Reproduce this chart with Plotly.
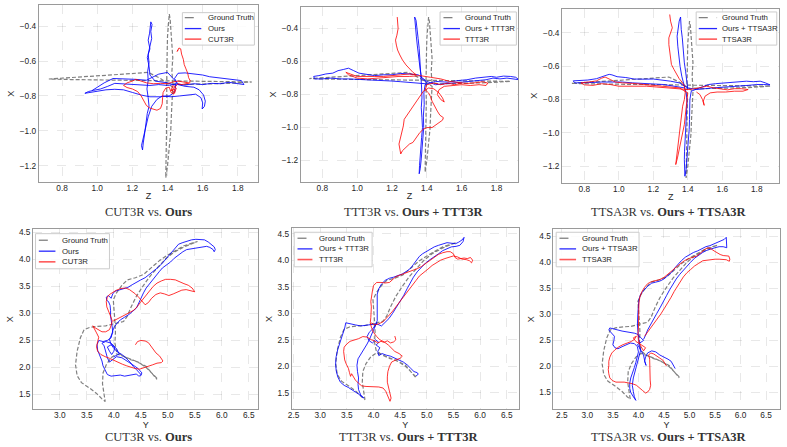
import plotly.graph_objects as go

W, H = 787, 447

# ---------------- DATA ----------------
# Top row: Z (horizontal) vs X (vertical)
gt_top = [(1.43,-0.73),(1.425,-0.66),(1.43,-0.58),(1.425,-0.50),(1.42,-0.42),(1.415,-0.36),(1.41,-0.33),
          (1.405,-0.38),(1.40,-0.46),(1.398,-0.55),(1.396,-0.64),(1.395,-0.74),(1.397,-0.84),(1.396,-0.94),
          (1.394,-1.04),(1.392,-1.13),(1.39,-1.21),(1.39,-1.27),(1.40,-1.20),(1.41,-1.11),(1.418,-1.01),
          (1.422,-0.91),(1.425,-0.82),(1.43,-0.75),(1.36,-0.70),(1.29,-0.665),(1.15,-0.675),(1.00,-0.685),
          (0.85,-0.695),(0.725,-0.703),(0.85,-0.706),(1.00,-0.708),(1.15,-0.71),(1.30,-0.713),(1.45,-0.716),
          (1.60,-0.719),(1.75,-0.72),(1.88,-0.72),(1.75,-0.728),(1.60,-0.733),(1.48,-0.735),(1.43,-0.73)]

ours_p1 = [(1.45,-0.74),(1.40,-0.725),(1.33,-0.715),(1.30,-0.68),(1.295,-0.63),(1.285,-0.58),(1.30,-0.53),
           (1.29,-0.48),(1.298,-0.44),(1.30,-0.40),(1.305,-0.375),(1.312,-0.39),(1.305,-0.43),(1.31,-0.47),
           (1.30,-0.51),(1.29,-0.56),(1.295,-0.61),(1.287,-0.66),(1.29,-0.71),(1.283,-0.76),(1.29,-0.81),
           (1.295,-0.86),(1.285,-0.90),(1.28,-0.95),(1.273,-0.99),(1.268,-1.03),(1.262,-1.07),(1.258,-1.11),
           (1.252,-1.085),(1.262,-1.04),(1.275,-0.98),(1.29,-0.92),(1.31,-0.86),(1.34,-0.82),(1.37,-0.80),
           (1.42,-0.805),(1.47,-0.80),(1.52,-0.795),(1.56,-0.79),(1.59,-0.81),(1.60,-0.84),(1.597,-0.875),
           (1.61,-0.86),(1.615,-0.83),(1.605,-0.795),(1.58,-0.765),(1.55,-0.75),(1.50,-0.745),(1.46,-0.735),
           (1.44,-0.70),(1.46,-0.67),(1.50,-0.668),(1.55,-0.672),(1.60,-0.68),(1.64,-0.69),(1.68,-0.695),
           (1.72,-0.70),(1.76,-0.705),(1.80,-0.71),(1.82,-0.712),(1.835,-0.735),(1.80,-0.728),(1.75,-0.722),
           (1.70,-0.73),(1.65,-0.728),(1.60,-0.735),(1.55,-0.73),(1.50,-0.738),(1.45,-0.732),(1.40,-0.74),
           (1.35,-0.735),(1.30,-0.74),(1.25,-0.737),(1.20,-0.735),(1.15,-0.73),(1.10,-0.728),(1.06,-0.745),
           (1.02,-0.76),(0.98,-0.768),(0.95,-0.775),(0.93,-0.785),(0.96,-0.78),(1.00,-0.772),(1.05,-0.765),
           (1.10,-0.762),(1.15,-0.765),(1.20,-0.78),(1.25,-0.795),(1.30,-0.805),(1.36,-0.805),(1.41,-0.80),
           (1.44,-0.78),(1.45,-0.72),(1.40,-0.665),(1.35,-0.675),(1.28,-0.71),(1.22,-0.705),(1.15,-0.70),
           (1.09,-0.70),(1.04,-0.725),(0.99,-0.76),(0.97,-0.77)]

cut3r_p1 = [(1.46,-0.535),(1.455,-0.545),(1.465,-0.525),(1.475,-0.53),(1.48,-0.56),(1.49,-0.59),(1.495,-0.62),
            (1.505,-0.645),(1.515,-0.67),(1.52,-0.695),(1.53,-0.715),(1.52,-0.725),(1.49,-0.72),(1.46,-0.715),
            (1.43,-0.72),(1.40,-0.73),(1.36,-0.728),(1.32,-0.73),(1.28,-0.725),(1.25,-0.715),(1.22,-0.705),
            (1.20,-0.715),(1.17,-0.725),(1.15,-0.74),(1.17,-0.752),(1.20,-0.76),(1.23,-0.775),(1.25,-0.80),
            (1.265,-0.83),(1.28,-0.855),(1.30,-0.87),(1.32,-0.875),(1.34,-0.882),(1.36,-0.872),(1.37,-0.845),
            (1.372,-0.81),(1.375,-0.78),(1.39,-0.755),(1.41,-0.75),(1.42,-0.78),(1.435,-0.79),(1.44,-0.76),
            (1.42,-0.77),(1.43,-0.74),(1.45,-0.755),(1.44,-0.785),(1.425,-0.765),(1.445,-0.745),(1.46,-0.73),
            (1.48,-0.735),(1.50,-0.73),(1.53,-0.725)]

ours_p2 = [(1.40,-0.73),(1.37,-0.70),(1.362,-0.65),(1.355,-0.60),(1.35,-0.55),(1.345,-0.50),(1.34,-0.45),
           (1.335,-0.40),(1.33,-0.36),(1.33,-0.33),(1.338,-0.35),(1.345,-0.40),(1.35,-0.46),(1.356,-0.52),
           (1.36,-0.58),(1.365,-0.64),(1.368,-0.70),(1.37,-0.76),(1.372,-0.82),(1.368,-0.88),(1.372,-0.94),
           (1.375,-1.00),(1.37,-1.06),(1.365,-1.12),(1.36,-1.18),(1.358,-1.23),(1.356,-1.28),(1.362,-1.25),
           (1.368,-1.19),(1.372,-1.13),(1.378,-1.07),(1.382,-1.00),(1.38,-0.93),(1.385,-0.86),(1.383,-0.79),
           (1.39,-0.74),(1.45,-0.72),(1.52,-0.725),(1.58,-0.715),(1.63,-0.71),(1.68,-0.70),(1.72,-0.695),
           (1.77,-0.69),(1.80,-0.695),(1.84,-0.688),(1.88,-0.69),(1.91,-0.695),(1.93,-0.71),(1.90,-0.705),
           (1.86,-0.70),(1.82,-0.705),(1.78,-0.70),(1.74,-0.71),(1.70,-0.715),(1.65,-0.72),(1.60,-0.725),
           (1.55,-0.73),(1.50,-0.735),(1.45,-0.74),(1.40,-0.72),(1.35,-0.68),(1.30,-0.675),(1.25,-0.672),
           (1.20,-0.68),(1.15,-0.68),(1.10,-0.685),(1.05,-0.675),(1.01,-0.67),(0.98,-0.655),(0.95,-0.64),
           (0.92,-0.648),(0.89,-0.655),(0.86,-0.67),(0.82,-0.675),(0.78,-0.685),(0.75,-0.69),(0.755,-0.705),
           (0.80,-0.705),(0.85,-0.70),(0.90,-0.705),(0.95,-0.705),(1.00,-0.707),(1.05,-0.71),(1.10,-0.71),
           (1.15,-0.715),(1.20,-0.718),(1.25,-0.722),(1.30,-0.725),(1.35,-0.73),(1.40,-0.735)]

ttt3r_p2 = [(1.23,-0.33),(1.232,-0.36),(1.235,-0.40),(1.228,-0.44),(1.22,-0.47),(1.225,-0.50),(1.232,-0.53),
            (1.245,-0.56),(1.26,-0.59),(1.28,-0.62),(1.30,-0.645),(1.32,-0.665),(1.34,-0.68),(1.30,-0.675),
            (1.25,-0.68),(1.20,-0.685),(1.15,-0.69),(1.10,-0.69),(1.05,-0.688),(1.00,-0.69),(0.96,-0.675),
            (0.935,-0.665),(0.95,-0.68),(1.00,-0.70),(1.06,-0.705),(1.12,-0.70),(1.18,-0.695),(1.24,-0.69),
            (1.30,-0.69),(1.36,-0.685),(1.42,-0.695),(1.48,-0.705),(1.53,-0.72),(1.58,-0.728),(1.63,-0.733),
            (1.68,-0.728),(1.72,-0.722),(1.75,-0.73),(1.74,-0.745),(1.70,-0.74),(1.65,-0.745),(1.60,-0.74),
            (1.55,-0.745),(1.50,-0.75),(1.47,-0.77),(1.46,-0.80),(1.48,-0.83),(1.50,-0.845),(1.49,-0.82),
            (1.47,-0.79),(1.44,-0.765),(1.41,-0.76),(1.38,-0.78),(1.36,-0.81),(1.34,-0.84),(1.32,-0.87),
            (1.30,-0.90),(1.285,-0.93),(1.27,-0.95),(1.265,-0.99),(1.258,-1.02),(1.25,-1.06),(1.24,-1.10),
            (1.245,-1.13),(1.25,-1.16),(1.26,-1.14),(1.28,-1.12),(1.30,-1.10),(1.32,-1.09),(1.34,-1.06),
            (1.36,-1.03),(1.38,-1.01),(1.40,-1.00),(1.43,-1.00),(1.45,-0.985),(1.47,-0.97),(1.49,-0.955),
            (1.495,-0.94),(1.475,-0.925),(1.46,-0.90),(1.45,-0.88),(1.44,-0.86),(1.43,-0.84),(1.42,-0.81),
            (1.41,-0.79),(1.39,-0.77),(1.40,-0.74),(1.44,-0.73),(1.48,-0.74),(1.52,-0.73),(1.56,-0.74),(1.60,-0.73)]

ours_p3 = [(1.40,-0.74),(1.395,-0.68),(1.387,-0.63),(1.38,-0.58),(1.377,-0.53),(1.372,-0.48),(1.368,-0.43),
           (1.362,-0.38),(1.358,-0.33),(1.358,-0.305),(1.35,-0.33),(1.345,-0.38),(1.338,-0.42),(1.342,-0.48),
           (1.348,-0.54),(1.355,-0.60),(1.365,-0.66),(1.38,-0.72),(1.39,-0.76),(1.396,-0.81),(1.393,-0.86),
           (1.394,-0.91),(1.39,-0.96),(1.387,-1.01),(1.384,-1.06),(1.381,-1.11),(1.38,-1.16),(1.382,-1.21),
           (1.383,-1.26),(1.39,-1.22),(1.395,-1.16),(1.40,-1.10),(1.405,-1.04),(1.408,-0.98),(1.41,-0.92),
           (1.41,-0.86),(1.412,-0.80),(1.42,-0.75),(1.47,-0.73),(1.52,-0.71),(1.56,-0.705),(1.60,-0.702),
           (1.65,-0.70),(1.70,-0.695),(1.74,-0.69),(1.78,-0.693),(1.82,-0.69),(1.85,-0.70),(1.877,-0.712),
           (1.84,-0.71),(1.80,-0.71),(1.75,-0.715),(1.70,-0.718),(1.65,-0.72),(1.60,-0.725),(1.55,-0.73),
           (1.50,-0.735),(1.45,-0.74),(1.40,-0.73),(1.35,-0.70),(1.30,-0.69),(1.25,-0.682),(1.20,-0.677),
           (1.15,-0.678),(1.09,-0.677),(1.04,-0.668),(0.99,-0.663),(0.96,-0.652),(0.944,-0.649),(0.925,-0.655),
           (0.90,-0.665),(0.87,-0.675),(0.82,-0.683),(0.78,-0.685),(0.735,-0.688),(0.745,-0.70),(0.79,-0.70),
           (0.84,-0.698),(0.90,-0.695),(0.96,-0.693),(1.02,-0.695),(1.08,-0.70),(1.14,-0.702),(1.20,-0.705),
           (1.26,-0.71),(1.32,-0.72),(1.38,-0.73)]

ttsa3r_p3 = [(1.295,-0.29),(1.30,-0.33),(1.31,-0.37),(1.30,-0.40),(1.29,-0.43),(1.29,-0.47),(1.294,-0.51),
             (1.298,-0.55),(1.305,-0.59),(1.32,-0.62),(1.335,-0.65),(1.35,-0.675),(1.37,-0.70),(1.38,-0.72),
             (1.385,-0.76),(1.38,-0.80),(1.37,-0.84),(1.365,-0.88),(1.36,-0.92),(1.355,-0.96),(1.35,-1.00),
             (1.345,-1.04),(1.34,-1.08),(1.338,-1.11),(1.333,-1.15),(1.33,-1.19),(1.34,-1.15),(1.35,-1.10),
             (1.36,-1.05),(1.37,-1.00),(1.38,-0.95),(1.385,-0.90),(1.39,-0.85),(1.395,-0.80),(1.40,-0.76),
             (1.35,-0.73),(1.30,-0.725),(1.25,-0.72),(1.20,-0.712),(1.14,-0.708),(1.08,-0.703),(1.02,-0.70),
             (0.98,-0.695),(0.95,-0.68),(0.92,-0.665),(0.90,-0.672),(0.87,-0.688),(0.84,-0.693),(0.80,-0.698),
             (0.78,-0.70),(0.80,-0.712),(0.85,-0.715),(0.90,-0.705),(0.95,-0.71),(1.00,-0.72),(1.05,-0.72),
             (1.10,-0.718),(1.16,-0.72),(1.22,-0.725),(1.28,-0.73),(1.34,-0.735),(1.40,-0.74),(1.44,-0.735),
             (1.48,-0.725),(1.51,-0.72),(1.55,-0.73),(1.59,-0.738),(1.63,-0.742),(1.67,-0.735),(1.71,-0.735),
             (1.75,-0.74),(1.72,-0.75),(1.67,-0.75),(1.62,-0.755),(1.57,-0.755),(1.53,-0.76),(1.50,-0.78),
             (1.49,-0.81),(1.495,-0.835),(1.485,-0.80),(1.47,-0.77),(1.45,-0.755)]

# Bottom row: Y (horizontal) vs X (vertical)
gt_bot = [(4.80,1.80),(4.72,1.88),(4.60,2.00),(4.45,2.10),(4.30,2.15),(4.15,2.22),(4.05,2.30),(4.02,2.45),
          (4.03,2.65),(4.02,2.85),(4.00,3.05),(3.99,3.25),(4.05,3.38),(4.15,3.52),(4.25,3.62),(4.40,3.66),
          (4.55,3.72),(4.70,3.85),(4.85,3.98),(5.00,4.08),(5.15,4.17),(5.30,4.25),(5.45,4.30),(5.55,4.33),
          (5.42,4.28),(5.28,4.22),(5.10,4.12),(4.95,4.00),(4.82,3.86),(4.68,3.70),(4.55,3.52),(4.42,3.32),
          (4.32,3.12),(4.25,2.95),(4.18,2.85),(4.00,2.80),(3.85,2.77),(3.70,2.76),(3.55,2.74),(3.45,2.70),
          (3.38,2.55),(3.32,2.30),(3.29,2.05),(3.32,1.85),(3.40,1.72),(3.55,1.62),(3.68,1.52),(3.78,1.42),
          (3.84,1.37),(3.82,1.50),(3.79,1.70),(3.80,1.90),(3.86,2.05),(3.95,2.18),(4.05,2.25),(4.20,2.20),
          (4.40,2.12),(4.60,2.02),(4.75,1.85),(4.80,1.78)]

ours_p4 = [(4.51,1.86),(4.48,1.90),(4.42,1.96),(4.36,2.02),(4.30,2.10),(4.22,2.18),(4.15,2.24),(4.08,2.28),
           (4.03,2.32),(3.98,2.38),(3.94,2.45),(3.92,2.52),(3.95,2.58),(3.98,2.65),(3.97,2.75),(3.95,2.85),
           (3.94,2.95),(3.94,3.05),(3.93,3.15),(3.90,3.22),(3.87,3.24),(3.86,3.30),(3.90,3.33),(3.95,3.28),
           (3.98,3.36),(4.02,3.41),(4.10,3.43),(4.18,3.45),(4.26,3.48),(4.34,3.53),(4.42,3.58),(4.50,3.62),
           (4.58,3.66),(4.66,3.72),(4.74,3.78),(4.82,3.85),(4.90,3.93),(4.96,4.00),(5.02,4.08),(5.08,4.15),
           (5.14,4.22),(5.20,4.28),(5.28,4.31),(5.36,4.34),(5.44,4.36),(5.52,4.37),(5.60,4.37),(5.68,4.36),
           (5.75,4.32),(5.81,4.28),(5.86,4.23),(5.88,4.18),(5.86,4.14),(5.84,4.18),(5.78,4.22),(5.72,4.24),
           (5.65,4.23),(5.58,4.21),(5.50,4.20),(5.42,4.20),(5.35,4.18),(5.28,4.14),(5.20,4.08),(5.12,4.02),
           (5.05,3.95),(4.98,3.90),(4.90,3.84),(4.84,3.77),(4.78,3.70),(4.72,3.62),(4.66,3.55),(4.60,3.47),
           (4.55,3.38),(4.50,3.28),(4.46,3.18),(4.42,3.10),(4.35,3.04),(4.28,2.98),(4.20,2.93),(4.12,2.88),
           (4.06,2.82),(4.01,2.75),(3.98,2.68),(3.95,2.55),(3.88,2.50),(3.80,2.48),(3.72,2.50),(3.69,2.42),
           (3.70,2.32),(3.74,2.22),(3.78,2.12),(3.80,2.03),(3.84,1.94),(3.88,1.87),(3.95,1.84),(4.03,1.85),
           (4.12,1.86),(4.20,1.84),(4.28,1.85),(4.35,1.87),(4.42,1.88),(4.46,1.84),(4.50,1.85),(4.52,1.90),
           (4.45,1.98),(4.35,2.05),(4.25,2.12),(4.15,2.18),(4.05,2.20),(3.98,2.15),(3.92,2.10),(3.88,2.18),
           (3.85,2.30),(3.82,2.40),(3.78,2.45),(3.85,2.48),(3.95,2.45),(4.02,2.38),(4.00,2.30),(3.96,2.24),
           (3.92,2.30),(3.88,2.38),(3.95,2.42),(4.05,2.35),(4.10,2.25),(4.00,2.20)]

cut3r_p4 = [(4.40,2.42),(4.44,2.48),(4.50,2.50),(4.58,2.49),(4.64,2.46),(4.68,2.41),(4.72,2.34),(4.78,2.27),
            (4.85,2.21),(4.91,2.12),(4.88,2.09),(4.80,2.08),(4.72,2.05),(4.64,2.02),(4.56,1.99),(4.48,1.97),
            (4.40,1.98),(4.32,2.00),(4.24,2.03),(4.16,2.06),(4.08,2.10),(4.00,2.14),(3.92,2.17),(3.84,2.20),
            (3.76,2.24),(3.70,2.30),(3.68,2.38),(3.70,2.48),(3.72,2.56),(3.68,2.64),(3.64,2.72),(3.61,2.77),
            (3.66,2.73),(3.72,2.69),(3.78,2.66),(3.85,2.66),(3.92,2.70),(3.95,2.78),(3.97,2.86),(3.94,2.95),
            (3.90,3.04),(3.87,3.12),(3.86,3.22),(3.88,3.30),(3.92,3.35),(3.97,3.38),(4.05,3.43),(4.13,3.46),
            (4.22,3.47),(4.29,3.44),(4.35,3.40),(4.40,3.36),(4.46,3.30),(4.52,3.22),(4.58,3.16),(4.64,3.20),
            (4.70,3.28),(4.78,3.35),(4.86,3.38),(4.94,3.36),(5.02,3.33),(5.10,3.36),(5.18,3.40),(5.26,3.43),
            (5.34,3.44),(5.42,3.42),(5.50,3.40),(5.45,3.47),(5.38,3.52),(5.30,3.55),(5.22,3.58),(5.14,3.62),
            (5.05,3.63),(4.96,3.63),(4.88,3.60),(4.80,3.56),(4.73,3.50),(4.67,3.43),(4.61,3.36),(4.55,3.28),
            (4.49,3.20),(4.43,3.12),(4.37,3.06),(4.30,3.02),(4.22,2.98),(4.14,2.95),(4.06,2.90),(3.99,2.86)]

ours_p5 = [(4.80,1.82),(4.84,1.85),(4.82,1.88),(4.76,1.90),(4.70,1.96),(4.64,2.02),(4.56,2.08),(4.48,2.12),
           (4.40,2.16),(4.32,2.19),(4.24,2.21),(4.16,2.24),(4.10,2.20),(4.08,2.28),(4.12,2.35),(4.05,2.40),
           (4.10,2.45),(4.04,2.50),(3.98,2.44),(3.92,2.48),(3.88,2.56),(3.92,2.64),(3.98,2.70),(4.04,2.78),
           (4.07,2.86),(4.07,2.96),(4.06,3.06),(4.07,3.16),(4.06,3.26),(4.07,3.36),(4.10,3.46),(4.15,3.55),
           (4.22,3.62),(4.30,3.66),(4.38,3.68),(4.46,3.71),(4.54,3.74),(4.62,3.79),(4.70,3.85),(4.75,3.92),
           (4.80,4.00),(4.86,4.07),(4.92,4.12),(4.98,4.16),(5.06,4.21),(5.14,4.25),(5.22,4.28),(5.30,4.31),
           (5.38,4.33),(5.46,4.32),(5.54,4.31),(5.60,4.34),(5.66,4.38),(5.70,4.43),(5.68,4.35),(5.62,4.28),
           (5.55,4.26),(5.46,4.25),(5.38,4.22),(5.30,4.18),(5.22,4.12),(5.14,4.07),(5.06,4.01),(4.98,3.95),
           (4.90,3.87),(4.82,3.78),(4.75,3.68),(4.69,3.58),(4.63,3.46),(4.57,3.34),(4.50,3.22),(4.43,3.10),
           (4.36,3.00),(4.29,2.90),(4.22,2.82),(4.15,2.76),(4.06,2.80),(3.96,2.79),(3.86,2.77),(3.76,2.76),
           (3.66,2.78),(3.55,2.80),(3.48,2.82),(3.46,2.72),(3.42,2.60),(3.38,2.46),(3.33,2.32),(3.30,2.18),
           (3.29,2.05),(3.30,1.92),(3.33,1.80),(3.38,1.70),(3.45,1.64),(3.53,1.60),(3.60,1.56),(3.67,1.51),
           (3.73,1.47),(3.79,1.42),(3.82,1.40),(3.76,1.46),(3.72,1.56),(3.71,1.66),(3.72,1.78),(3.70,1.90),
           (3.69,2.02),(3.71,2.14),(3.76,2.22),(3.82,2.32),(3.88,2.42),(3.93,2.52),(3.97,2.62),(4.02,2.72),
           (4.06,2.82)]

ttt3r_p5 = [(4.40,2.57),(4.42,2.50),(4.38,2.46),(4.32,2.44),(4.26,2.48),(4.20,2.45),(4.14,2.47),(4.08,2.44),
            (4.02,2.48),(3.96,2.50),(3.88,2.55),(3.80,2.56),(3.72,2.52),(3.64,2.50),(3.56,2.47),(3.50,2.42),
            (3.45,2.36),(3.44,2.28),(3.45,2.20),(3.46,2.12),(3.49,2.04),(3.53,1.96),(3.55,1.88),(3.57,1.81),
            (3.59,1.86),(3.62,1.80),(3.66,1.74),(3.72,1.68),(3.78,1.63),(3.86,1.62),(3.94,1.62),(4.02,1.62),
            (4.10,1.61),(4.18,1.59),(4.23,1.53),(4.26,1.46),(4.29,1.39),(4.31,1.34),(4.33,1.40),(4.31,1.50),
            (4.28,1.60),(4.26,1.70),(4.26,1.80),(4.27,1.90),(4.30,2.00),(4.34,2.08),(4.42,2.12),(4.50,2.15),
            (4.54,2.19),(4.48,2.24),(4.40,2.28),(4.34,2.34),(4.28,2.40),(4.20,2.46),(4.12,2.50),(4.06,2.56),
            (4.00,2.64),(3.96,2.74),(3.94,2.82),(3.95,2.92),(3.96,3.02),(3.96,3.12),(3.95,3.22),(3.96,3.32),
            (3.98,3.42),(4.00,3.52),(4.06,3.58),(4.14,3.58),(4.22,3.57),(4.30,3.58),(4.36,3.64),(4.42,3.69),
            (4.50,3.72),(4.58,3.75),(4.66,3.77),(4.74,3.80),(4.82,3.84),(4.90,3.88),(4.98,3.94),(5.06,4.00),
            (5.14,4.06),(5.22,4.11),(5.30,4.14),(5.38,4.16),(5.44,4.16),(5.50,4.12),(5.53,4.05),(5.58,4.02),
            (5.64,4.03),(5.70,4.04),(5.76,4.03),(5.82,4.05),(5.86,4.00),(5.84,3.95),(5.80,3.99),(5.74,4.01),
            (5.66,4.02),(5.58,4.06),(5.50,4.08),(5.42,4.06),(5.34,4.03),(5.26,4.00),(5.18,3.95),(5.10,3.90),
            (5.02,3.83),(4.94,3.77),(4.86,3.70),(4.80,3.62),(4.74,3.54),(4.68,3.45),(4.62,3.37),(4.55,3.28),
            (4.48,3.20),(4.42,3.12),(4.36,3.04),(4.30,2.97),(4.24,2.90),(4.18,2.84),(4.10,2.80),(4.02,2.78),
            (3.96,2.82)]

ours_p6 = [(4.72,1.96),(4.70,1.99),(4.68,2.04),(4.64,2.10),(4.58,2.14),(4.50,2.18),(4.42,2.22),(4.34,2.28),
           (4.26,2.30),(4.18,2.26),(4.14,2.18),(4.12,2.10),(4.15,2.02),(4.12,2.12),(4.10,2.22),(4.06,2.30),
           (4.02,2.36),(3.98,2.42),(4.04,2.46),(4.10,2.50),(4.04,2.56),(3.98,2.62),(3.92,2.64),(3.84,2.65),
           (3.76,2.66),(3.68,2.68),(3.60,2.70),(3.52,2.72),(3.44,2.74),(3.42,2.70),(3.47,2.64),(3.53,2.58),
           (3.52,2.50),(3.50,2.42),(3.54,2.36),(3.60,2.34),(3.68,2.38),(3.76,2.42),(3.84,2.45),(3.92,2.44),
           (3.98,2.38),(4.00,2.28),(3.98,2.18),(3.95,2.08),(3.92,1.98),(3.88,1.88),(3.85,1.78),(3.83,1.68),
           (3.83,1.58),(3.85,1.50),(3.88,1.44),(3.92,1.39),(3.95,1.35),(3.92,1.42),(3.90,1.52),(3.88,1.64),
           (3.90,1.78),(3.94,1.92),(3.98,2.05),(4.02,2.18),(4.04,2.30),(4.02,2.42),(4.00,2.55),(3.99,2.68),
           (3.98,2.80),(3.98,2.92),(3.99,3.04),(4.00,3.16),(4.01,3.28),(4.04,3.38),(4.10,3.46),(4.18,3.54),
           (4.26,3.60),(4.34,3.62),(4.42,3.64),(4.50,3.68),(4.58,3.75),(4.66,3.82),(4.72,3.90),(4.78,3.97),
           (4.84,4.03),(4.92,4.10),(5.00,4.15),(5.08,4.19),(5.16,4.22),(5.24,4.26),(5.32,4.30),(5.40,4.32),
           (5.48,4.35),(5.56,4.38),(5.62,4.41),(5.68,4.44),(5.72,4.48),(5.72,4.38),(5.73,4.28),(5.66,4.30),
           (5.58,4.30),(5.50,4.28),(5.42,4.26),(5.34,4.23),(5.26,4.19),(5.18,4.14),(5.10,4.08),(5.02,4.00),
           (4.95,3.93),(4.88,3.85),(4.81,3.77),(4.74,3.68),(4.67,3.58),(4.61,3.47),(4.55,3.36),(4.49,3.24),
           (4.43,3.14),(4.36,3.02),(4.30,2.92),(4.24,2.80),(4.18,2.70),(4.14,2.60),(4.10,2.52)]

ttsa3r_p6 = [(4.55,2.01),(4.52,2.06),(4.48,2.12),(4.42,2.16),(4.36,2.20),(4.30,2.24),(4.24,2.26),(4.20,2.22),
             (4.22,2.14),(4.22,2.04),(4.23,1.94),(4.22,1.84),(4.23,1.74),(4.24,1.64),(4.22,1.56),(4.18,1.51),
             (4.14,1.49),(4.08,1.54),(4.02,1.60),(3.96,1.64),(3.88,1.67),(3.80,1.69),(3.72,1.70),(3.64,1.70),
             (3.56,1.70),(3.49,1.73),(3.44,1.78),(3.42,1.86),(3.41,1.94),(3.42,2.02),(3.42,2.10),(3.44,2.18),
             (3.48,2.26),(3.54,2.32),(3.62,2.38),(3.70,2.42),(3.78,2.45),(3.86,2.48),(3.92,2.52),(3.96,2.58),
             (3.90,2.55),(3.95,2.48),(4.02,2.44),(4.08,2.40),(4.14,2.36),(4.10,2.30),(4.04,2.40),(4.00,2.50),
             (3.99,2.62),(4.00,2.74),(4.00,2.86),(4.00,2.98),(4.01,3.10),(4.01,3.22),(4.03,3.34),(4.07,3.44),
             (4.12,3.52),(4.18,3.59),(4.26,3.63),(4.34,3.65),(4.42,3.67),(4.50,3.71),(4.58,3.77),(4.66,3.84),
             (4.74,3.91),(4.82,3.97),(4.90,4.03),(4.98,4.07),(5.06,4.10),(5.14,4.12),(5.22,4.18),(5.30,4.25),
             (5.36,4.28),(5.42,4.26),(5.48,4.22),(5.54,4.18),(5.60,4.15),(5.66,4.13),(5.72,4.12),(5.77,4.12),
             (5.79,4.06),(5.78,4.02),(5.72,4.05),(5.66,4.06),(5.58,4.06),(5.50,4.06),(5.42,4.05),(5.34,4.05),
             (5.26,4.03),(5.18,3.98),(5.10,3.93),(5.02,3.86),(4.95,3.80),(4.88,3.72),(4.82,3.63),(4.76,3.54),
             (4.70,3.44),(4.64,3.33),(4.58,3.22),(4.51,3.12),(4.44,3.01),(4.37,2.91),(4.30,2.82),(4.24,2.74),
             (4.18,2.66),(4.12,2.58)]

series_names = [("Ours", "CUT3R"), ("Ours + TTT3R", "TTT3R"), ("Ours + TTSA3R", "TTSA3R")]
captions = ["CUT3R vs. <b>Ours</b>", "TTT3R vs. <b>Ours + TTT3R</b>", "TTSA3R vs. <b>Ours + TTSA3R</b>"]
top_xticks = [0.8, 1.0, 1.2, 1.4, 1.6, 1.8]
top_yticks = [-0.4, -0.6, -0.8, -1.0, -1.2]
bot_yticks = [1.5, 2.0, 2.5, 3.0, 3.5, 4.0, 4.5]
bot_xticks = [2.5, 3.0, 3.5, 4.0, 4.5, 5.0, 5.5, 6.0, 6.5]

# ---------------- LAYOUT (pixel geometry) ----------------
# plot area in px: left, right, top, bottom
boxes = [(35, 255.7, 3.3, 181), (298.3, 516.7, 5, 181), (561, 779.3, 6.7, 181.7),
         (29.3, 255.7, 228, 409.3), (289.3, 517.3, 227.3, 409.3), (552.3, 779.7, 228, 409.3)]
xranges = [(0.668, 1.917), (0.676, 1.924), (0.671, 1.931), (2.505, 6.679), (2.468, 6.724), (2.337, 6.767)]
yranges = [(-1.295, -0.28), (-1.331, -0.269), (-1.30, -0.255), (1.224, 4.561), (1.186, 4.601), (1.175, 4.64)]
# legends: box (l,t,r,b), sample x0,x1, text x, row ys
legends = [((179.3, 10.7, 251.7, 43.3), 181.7, 198.3, 202.7, (15.7, 26.7, 37.3)),
           ((438.3, 10, 515, 43.3), 441.7, 458.3, 461.7, (15.7, 26.7, 37.3)),
           ((695.7, 10, 776.7, 43.3), 698.3, 716.7, 719.3, (15.7, 26.7, 37.3)),
           ((31.7, 232.7, 106, 268), 35, 51.7, 56, (239.3, 250.3, 261)),
           ((291.7, 231.3, 370, 266), 295, 310, 315, (237.3, 248, 258.7)),
           ((555, 231.3, 638.3, 266), 558.3, 575, 579.3, (237.3, 248, 258.7))]
caption_pos = [(145, 211), (411.7, 211), (668, 211), (145, 437), (406.7, 437), (668.3, 437)]

GT_COLOR = "#808080"
BLUE = "rgba(0,0,255,0.85)"
RED = "rgba(255,0,0,0.8)"
TICK_FONT = dict(family="Liberation Sans", size=8.3, color="#262626")
TITLE_FONT = dict(family="Liberation Sans", size=9, color="#262626")


def px_x(p):
    return p / W


def px_y(p):
    return 1 - p / H


def split(pts):
    return [p[0] for p in pts], [p[1] for p in pts]


fig = go.Figure()

panel_series = [
    (gt_top, ours_p1, cut3r_p1), (gt_top, ours_p2, ttt3r_p2), (gt_top, ours_p3, ttsa3r_p3),
    (gt_bot, ours_p4, cut3r_p4), (gt_bot, ours_p5, ttt3r_p5), (gt_bot, ours_p6, ttsa3r_p6),
]

shapes = []
annotations = []
for i in range(6):
    ax = "" if i == 0 else str(i + 1)
    gt, ours, base = panel_series[i]
    ours_name, base_name = series_names[i % 3]
    gx, gy = split(gt)
    ox, oy = split(ours)
    bx, by = split(base)
    fig.add_trace(go.Scatter(x=gx, y=gy, mode="lines", name="Ground Truth", xaxis="x" + ax, yaxis="y" + ax,
                             line=dict(color=GT_COLOR, width=1.2, dash="4px,2px"), showlegend=False))
    fig.add_trace(go.Scatter(x=ox, y=oy, mode="lines", name=ours_name, xaxis="x" + ax, yaxis="y" + ax,
                             line=dict(color=BLUE, width=1), showlegend=False))
    fig.add_trace(go.Scatter(x=bx, y=by, mode="lines", name=base_name, xaxis="x" + ax, yaxis="y" + ax,
                             line=dict(color=RED, width=1), showlegend=False))

    l, r, t, b = boxes[i]
    top = i < 3
    common = dict(showgrid=True, gridcolor="rgba(0,0,0,0.09)", griddash="dash", gridwidth=0.8,
                  zeroline=False, showline=True, mirror=True, linecolor="#9a9a9a", linewidth=1,
                  ticks="", tickfont=TICK_FONT, tickformat=".1f", fixedrange=True)
    fig.layout["xaxis" + ax] = dict(common, domain=[px_x(l), px_x(r)], range=list(xranges[i]),
                                    anchor="y" + ax, tickmode="array", ticklabelstandoff=-2,
                                    tickvals=top_xticks if top else bot_xticks,
                                    title=dict(text="Z" if top else "Y", standoff=0, font=TITLE_FONT))
    fig.layout["yaxis" + ax] = dict(common, domain=[px_y(b), px_y(t)], range=list(yranges[i]),
                                    anchor="x" + ax, tickmode="array",
                                    tickvals=top_yticks if top else bot_yticks,
                                    title=dict(text="X", standoff=3, font=TITLE_FONT))

    # legend box
    (bl, bt, br, bb), sx0, sx1, tx, rows = legends[i]
    shapes.append(dict(type="rect", xref="paper", yref="paper", x0=px_x(bl), x1=px_x(br), y0=px_y(bb),
                       y1=px_y(bt), line=dict(color="#cccccc", width=1), fillcolor="rgba(255,255,255,0.85)",
                       layer="above"))
    styles = [dict(color=GT_COLOR, width=1.3, dash="dash"), dict(color=BLUE, width=1.3),
              dict(color="rgba(255,0,0,0.65)", width=1.6)]
    labels = ["Ground Truth", ours_name, base_name]
    for ry, st, lab in zip(rows, styles, labels):
        shapes.append(dict(type="line", xref="paper", yref="paper", x0=px_x(sx0), x1=px_x(sx1),
                           y0=px_y(ry), y1=px_y(ry), line=st, layer="above"))
        annotations.append(dict(text=lab, xref="paper", yref="paper", x=px_x(tx), y=px_y(ry),
                                xanchor="left", yanchor="middle", showarrow=False,
                                font=dict(family="Liberation Sans", size=7.8, color="#262626")))
    cx, cy = caption_pos[i]
    annotations.append(dict(text=captions[i % 3], xref="paper", yref="paper", x=px_x(cx), y=px_y(cy),
                            xanchor="center", yanchor="middle", showarrow=False,
                            font=dict(family="Liberation Serif", size=12.5, color="#333333")))

fig.update_layout(width=W, height=H, margin=dict(l=0, r=0, t=0, b=0), showlegend=False,
                  paper_bgcolor="white", plot_bgcolor="white", shapes=shapes, annotations=annotations)

fig.write_html("out.html", config=dict(displayModeBar=False))
